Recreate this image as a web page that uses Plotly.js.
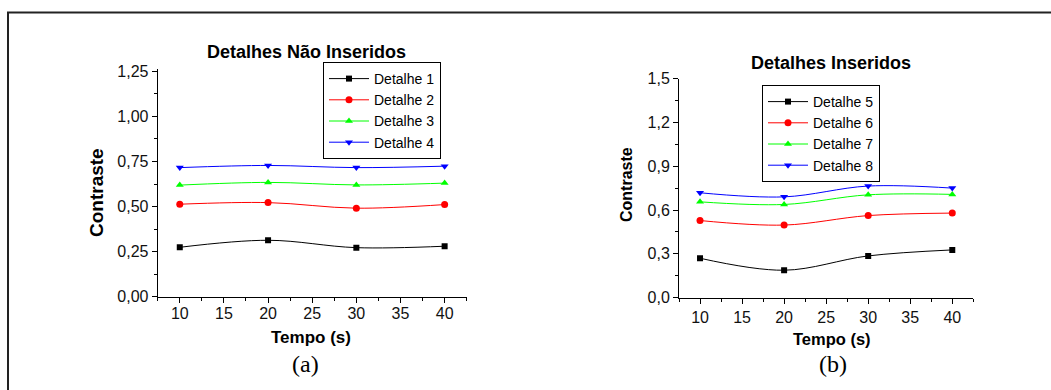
<!DOCTYPE html>
<html>
<head>
<meta charset="utf-8">
<script src="https://cdn.plot.ly/plotly-3.0.1.min.js"></script>
<style>
html,body{margin:0;padding:0;background:#fff;}
#chart{width:1051px;height:390px;}
</style>
</head>
<body>
<div id="chart"></div>
<script>
// Data
const tempo = [10, 20, 30, 40];
const namesA = ["Detalhe 1", "Detalhe 2", "Detalhe 3", "Detalhe 4"];
const detalhe1 = [0.274, 0.313, 0.272, 0.280];
const detalhe2 = [0.513, 0.522, 0.491, 0.511];
const detalhe3 = [0.619, 0.634, 0.620, 0.630];
const detalhe4 = [0.716, 0.728, 0.716, 0.724];
const namesB = ["Detalhe 5", "Detalhe 6", "Detalhe 7", "Detalhe 8"];
const detalhe5 = [0.270, 0.188, 0.286, 0.327];
const detalhe6 = [0.528, 0.497, 0.562, 0.579];
const detalhe7 = [0.656, 0.638, 0.704, 0.707];
const detalhe8 = [0.718, 0.690, 0.764, 0.750];
const titleA = "Detalhes Não Inseridos";
const titleB = "Detalhes Inseridos";
const xTitle = "Tempo (s)";
const yTitle = "Contraste";
const panelA = "(a)";
const panelB = "(b)";

const colors = ["#000000", "#ff0000", "#00ff00", "#0000ff"];
const symbols = ["square", "circle", "triangle-up", "triangle-down"];
const msizes = [6, 7, 7, 7];

function mk(name, y, i, xa, ya, leg) {
  return {
    x: tempo, y: y, name: name, type: "scatter", mode: "lines+markers",
    xaxis: xa, yaxis: ya, legend: leg,
    line: {color: colors[i], width: 1, shape: "spline", smoothing: 1},
    marker: {color: colors[i], symbol: symbols[i], size: msizes[i]}
  };
}

const seriesA = [detalhe1, detalhe2, detalhe3, detalhe4];
const seriesB = [detalhe5, detalhe6, detalhe7, detalhe8];
const data = [];
seriesA.forEach((s, i) => data.push(mk(namesA[i], s, i, "x", "y", "legend")));
seriesB.forEach((s, i) => data.push(mk(namesB[i], s, i, "x2", "y2", "legend2")));

const W = 1051, H = 390;
const px = v => v / W;
const py = v => (H - v) / H;

const SANS = "Liberation Sans, Arial, sans-serif";
const tickFont = {family: SANS, size: 16, color: "#111"};
const axBase = {
  showline: true, linecolor: "#000", linewidth: 1, mirror: false,
  showgrid: false, zeroline: false,
  ticks: "outside", ticklen: 5, tickwidth: 1, tickcolor: "#000",
  tickfont: tickFont, fixedrange: true
};

const layout = {
  width: W, height: H,
  margin: {l: 0, r: 0, t: 0, b: 0},
  paper_bgcolor: "#fff", plot_bgcolor: "#fff",
  separators: ",.",
  showlegend: true,
  xaxis: Object.assign({}, axBase, {
    domain: [px(157.7), px(466.7)], range: [7.5, 42.5], anchor: "y",
    tick0: 0, dtick: 5, ticklabelstandoff: -3,
    minor: {ticks: "outside", ticklen: 3, dtick: 2.5, tick0: 0, tickcolor: "#000"}
  }),
  yaxis: Object.assign({}, axBase, {
    domain: [py(296.7), py(69)], range: [0, 1.263], anchor: "x",
    tick0: 0, dtick: 0.25, tickformat: ".2f",
    minor: {ticks: "outside", ticklen: 3, dtick: 0.125, tick0: 0, tickcolor: "#000"}
  }),
  xaxis2: Object.assign({}, axBase, {
    domain: [px(679), px(973.3)], range: [7.5, 42.5], anchor: "y2",
    tick0: 0, dtick: 5,
    minor: {ticks: "outside", ticklen: 3, dtick: 2.5, tick0: 0, tickcolor: "#000"}
  }),
  yaxis2: Object.assign({}, axBase, {
    domain: [py(297.7), py(78.5)], range: [0, 1.5], anchor: "x2",
    tick0: 0, dtick: 0.3, tickformat: ".1f",
    minor: {ticks: "outside", ticklen: 3, dtick: 0.15, tick0: 0, tickcolor: "#000"}
  }),
  legend: {
    x: px(323), y: py(62), xanchor: "left", yanchor: "top",
    bgcolor: "#fff", bordercolor: "#000", borderwidth: 1,
    font: {family: SANS, size: 14, color: "#000"},
    itemwidth: 40, tracegroupgap: 0
  },
  legend2: {
    x: px(762), y: py(85), xanchor: "left", yanchor: "top",
    bgcolor: "#fff", bordercolor: "#000", borderwidth: 1,
    font: {family: SANS, size: 14, color: "#000"},
    itemwidth: 40, tracegroupgap: 0
  },
  shapes: [{
    type: "rect", xref: "paper", yref: "paper",
    x0: px(8), x1: px(1060), y0: py(400), y1: py(12.5),
    line: {color: "#222", width: 2}, fillcolor: "rgba(0,0,0,0)", layer: "below"
  }],
  annotations: [
    {text: "<b>" + titleA + "</b>", x: px(306), y: py(52), xref: "paper", yref: "paper",
     showarrow: false, xanchor: "center", yanchor: "middle",
     font: {family: SANS, size: 18, color: "#000"}},
    {text: "<b>" + titleB + "</b>", x: px(831), y: py(63), xref: "paper", yref: "paper",
     showarrow: false, xanchor: "center", yanchor: "middle",
     font: {family: SANS, size: 18, color: "#000"}},
    {text: "<b>" + yTitle + "</b>", x: px(96), y: py(193), xref: "paper", yref: "paper",
     showarrow: false, textangle: -90, xanchor: "center", yanchor: "middle",
     font: {family: SANS, size: 19, color: "#000"}},
    {text: "<b>" + yTitle + "</b>", x: px(626), y: py(185), xref: "paper", yref: "paper",
     showarrow: false, textangle: -90, xanchor: "center", yanchor: "middle",
     font: {family: SANS, size: 16, color: "#000"}},
    {text: "<b>" + xTitle + "</b>", x: px(311), y: py(337), xref: "paper", yref: "paper",
     showarrow: false, xanchor: "center", yanchor: "middle",
     font: {family: SANS, size: 17, color: "#000"}},
    {text: "<b>" + xTitle + "</b>", x: px(832), y: py(339), xref: "paper", yref: "paper",
     showarrow: false, xanchor: "center", yanchor: "middle",
     font: {family: SANS, size: 16.5, color: "#000"}},
    {text: panelA, x: px(305), y: py(364), xref: "paper", yref: "paper",
     showarrow: false, xanchor: "center", yanchor: "middle",
     font: {family: "Liberation Serif, Times New Roman, serif", size: 24, color: "#000"}},
    {text: panelB, x: px(833), y: py(364), xref: "paper", yref: "paper",
     showarrow: false, xanchor: "center", yanchor: "middle",
     font: {family: "Liberation Serif, Times New Roman, serif", size: 24, color: "#000"}}
  ]
};

Plotly.newPlot("chart", data, layout, {displayModeBar: false, staticPlot: true});
</script>
</body>
</html>
